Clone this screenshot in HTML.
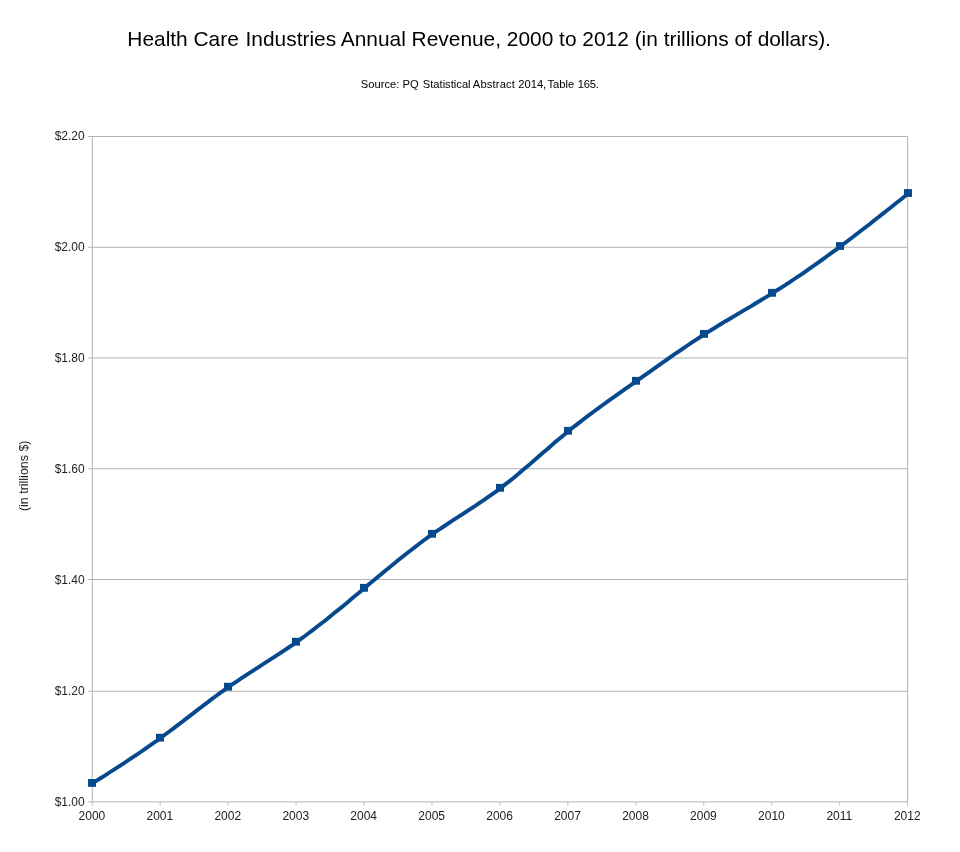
<!DOCTYPE html>
<html><head><meta charset="utf-8"><title>Health Care Industries Annual Revenue</title>
<style>
html,body{margin:0;padding:0;background:#fff}
svg{display:block;font-family:"Liberation Sans",Arial,sans-serif}
</style></head><body>
<svg width="960" height="852" viewBox="0 0 960 852">
<rect width="960" height="852" fill="#fff"/>
<text x="479" y="45.6" text-anchor="middle" font-size="20.9" fill="#000">Health Care <tspan dx="0.9">Industries</tspan> Annual Revenue, 2000 to 2012 (in trillions of <tspan letter-spacing="-0.15">dollars).</tspan></text>
<text x="360.8" y="88" font-size="11.2" fill="#000">Source: PQ <tspan dx="1">Statistical</tspan> <tspan dx="-0.95" letter-spacing="0.15">Abstract</tspan> <tspan dx="0.1">2014,</tspan> <tspan dx="-1.65">Table</tspan> <tspan dx="0.4" letter-spacing="-0.25">165.</tspan></text>
<g stroke="#b3b3b3" stroke-width="1" fill="none"><line x1="88.25" x2="907.6" y1="136.5" y2="136.5"/><line x1="88.25" x2="907.6" y1="247.25" y2="247.25"/><line x1="88.25" x2="907.6" y1="358.0" y2="358.0"/><line x1="88.25" x2="907.6" y1="468.75" y2="468.75"/><line x1="88.25" x2="907.6" y1="579.5" y2="579.5"/><line x1="88.25" x2="907.6" y1="691.25" y2="691.25"/><line x1="88.25" x2="907.6" y1="801.85" y2="801.85"/>
<line x1="92.25" x2="92.25" y1="136.5" y2="801.85"/><line x1="907.6" x2="907.6" y1="136.5" y2="801.85"/>

<line x1="92.25" x2="92.25" y1="801.85" y2="805.65" stroke="#c2c2c2"/><line x1="160.20" x2="160.20" y1="801.85" y2="805.65" stroke="#c2c2c2"/><line x1="228.14" x2="228.14" y1="801.85" y2="805.65" stroke="#c2c2c2"/><line x1="296.09" x2="296.09" y1="801.85" y2="805.65" stroke="#c2c2c2"/><line x1="364.03" x2="364.03" y1="801.85" y2="805.65" stroke="#c2c2c2"/><line x1="431.98" x2="431.98" y1="801.85" y2="805.65" stroke="#c2c2c2"/><line x1="499.93" x2="499.93" y1="801.85" y2="805.65" stroke="#c2c2c2"/><line x1="567.87" x2="567.87" y1="801.85" y2="805.65" stroke="#c2c2c2"/><line x1="635.82" x2="635.82" y1="801.85" y2="805.65" stroke="#c2c2c2"/><line x1="703.76" x2="703.76" y1="801.85" y2="805.65" stroke="#c2c2c2"/><line x1="771.71" x2="771.71" y1="801.85" y2="805.65" stroke="#c2c2c2"/><line x1="839.65" x2="839.65" y1="801.85" y2="805.65" stroke="#c2c2c2"/><line x1="907.60" x2="907.60" y1="801.85" y2="805.65" stroke="#c2c2c2"/></g>
<path transform="translate(0.4,0.4)" d="M92.0,783.0 L96.2,780.3 L100.5,777.6 L104.8,774.9 L109.0,772.1 L113.2,769.4 L117.5,766.7 L121.8,763.9 L126.0,761.1 L130.2,758.3 L134.5,755.5 L138.8,752.6 L143.0,749.7 L147.2,746.8 L151.5,743.8 L155.8,740.8 L160.0,737.7 L164.2,734.6 L168.5,731.4 L172.8,728.2 L177.0,725.0 L181.2,721.8 L185.5,718.5 L189.8,715.2 L194.0,712.0 L198.2,708.7 L202.5,705.5 L206.8,702.2 L211.0,699.0 L215.2,695.9 L219.5,692.8 L223.8,689.7 L228.0,686.7 L232.2,683.8 L236.5,680.9 L240.8,678.0 L245.0,675.2 L249.2,672.5 L253.5,669.7 L257.8,667.0 L262.0,664.3 L266.2,661.5 L270.5,658.8 L274.8,656.0 L279.0,653.3 L283.2,650.4 L287.5,647.6 L291.8,644.7 L296.0,641.7 L300.2,638.7 L304.5,635.6 L308.8,632.4 L313.0,629.2 L317.2,625.9 L321.5,622.6 L325.8,619.3 L330.0,615.9 L334.2,612.4 L338.5,609.0 L342.8,605.5 L347.0,602.0 L351.2,598.4 L355.5,594.9 L359.8,591.4 L364.0,587.8 L368.2,584.2 L372.5,580.7 L376.8,577.1 L381.0,573.6 L385.2,570.1 L389.5,566.6 L393.8,563.1 L398.0,559.7 L402.2,556.3 L406.5,552.9 L410.8,549.6 L415.0,546.3 L419.2,543.1 L423.5,539.9 L427.8,536.8 L432.0,533.8 L436.2,530.8 L440.5,527.9 L444.8,525.1 L449.0,522.3 L453.2,519.5 L457.5,516.7 L461.8,514.0 L466.0,511.2 L470.2,508.5 L474.5,505.7 L478.8,502.8 L483.0,500.0 L487.2,497.0 L491.5,494.0 L495.8,491.0 L500.0,487.8 L504.2,484.5 L508.5,481.2 L512.8,477.8 L517.0,474.3 L521.2,470.7 L525.5,467.1 L529.8,463.5 L534.0,459.8 L538.2,456.1 L542.5,452.4 L546.8,448.8 L551.0,445.1 L555.2,441.4 L559.5,437.8 L563.8,434.3 L568.0,430.8 L572.2,427.4 L576.5,424.0 L580.8,420.7 L585.0,417.4 L589.2,414.2 L593.5,411.1 L597.8,408.0 L602.0,404.9 L606.2,401.8 L610.5,398.8 L614.8,395.8 L619.0,392.8 L623.2,389.8 L627.5,386.8 L631.8,383.8 L636.0,380.8 L640.2,377.8 L644.5,374.8 L648.8,371.8 L653.0,368.8 L657.2,365.8 L661.5,362.7 L665.8,359.8 L670.0,356.8 L674.2,353.8 L678.5,350.9 L682.8,348.0 L687.0,345.1 L691.2,342.2 L695.5,339.4 L699.8,336.6 L704.0,333.9 L708.2,331.2 L712.5,328.6 L716.8,325.9 L721.0,323.4 L725.2,320.8 L729.5,318.3 L733.8,315.7 L738.0,313.2 L742.2,310.7 L746.5,308.2 L750.8,305.7 L755.0,303.1 L759.2,300.6 L763.5,298.0 L767.8,295.4 L772.0,292.8 L776.2,290.1 L780.5,287.4 L784.8,284.7 L789.0,281.9 L793.2,279.1 L797.5,276.2 L801.8,273.4 L806.0,270.4 L810.2,267.5 L814.5,264.5 L818.8,261.5 L823.0,258.5 L827.2,255.4 L831.5,252.3 L835.8,249.2 L840.0,246.0 L844.2,242.8 L848.5,239.6 L852.8,236.4 L857.0,233.1 L861.2,229.9 L865.5,226.6 L869.8,223.3 L874.0,219.9 L878.2,216.6 L882.5,213.2 L886.8,209.9 L891.0,206.5 L895.2,203.1 L899.5,199.8 L903.8,196.4 L908.0,193.0" fill="none" stroke="#06498c" stroke-width="3.9" stroke-linejoin="round"/>
<g fill="#06498c"><rect x="88.0" y="779.05" width="8" height="7.8"/><rect x="156.0" y="733.80" width="8" height="7.8"/><rect x="224.0" y="682.80" width="8" height="7.8"/><rect x="292.0" y="637.80" width="8" height="7.8"/><rect x="360.0" y="583.90" width="8" height="7.8"/><rect x="428.0" y="529.90" width="8" height="7.8"/><rect x="496.0" y="483.90" width="8" height="7.8"/><rect x="564.0" y="426.90" width="8" height="7.8"/><rect x="632.0" y="376.90" width="8" height="7.8"/><rect x="700.0" y="330.00" width="8" height="7.8"/><rect x="768.0" y="288.90" width="8" height="7.8"/><rect x="836.0" y="242.10" width="8" height="7.8"/><rect x="904.0" y="189.10" width="8" height="7.8"/></g>
<g font-size="12" fill="#222"><text x="84.7" y="140.00" text-anchor="end">$2.20</text><text x="84.7" y="250.80" text-anchor="end">$2.00</text><text x="84.7" y="362.40" text-anchor="end">$1.80</text><text x="84.7" y="473.10" text-anchor="end">$1.60</text><text x="84.7" y="583.85" text-anchor="end">$1.40</text><text x="84.7" y="694.80" text-anchor="end">$1.20</text><text x="84.7" y="805.60" text-anchor="end">$1.00</text><text x="91.90" y="820" text-anchor="middle">2000</text><text x="159.85" y="820" text-anchor="middle">2001</text><text x="227.80" y="820" text-anchor="middle">2002</text><text x="295.75" y="820" text-anchor="middle">2003</text><text x="363.70" y="820" text-anchor="middle">2004</text><text x="431.65" y="820" text-anchor="middle">2005</text><text x="499.60" y="820" text-anchor="middle">2006</text><text x="567.55" y="820" text-anchor="middle">2007</text><text x="635.50" y="820" text-anchor="middle">2008</text><text x="703.45" y="820" text-anchor="middle">2009</text><text x="771.40" y="820" text-anchor="middle">2010</text><text x="839.35" y="820" text-anchor="middle">2011</text><text x="907.30" y="820" text-anchor="middle">2012</text></g>
<text transform="translate(27.6,475.8) rotate(-90)" text-anchor="middle" font-size="12.45" fill="#222">(in trillions $)</text>
</svg>
</body></html>
